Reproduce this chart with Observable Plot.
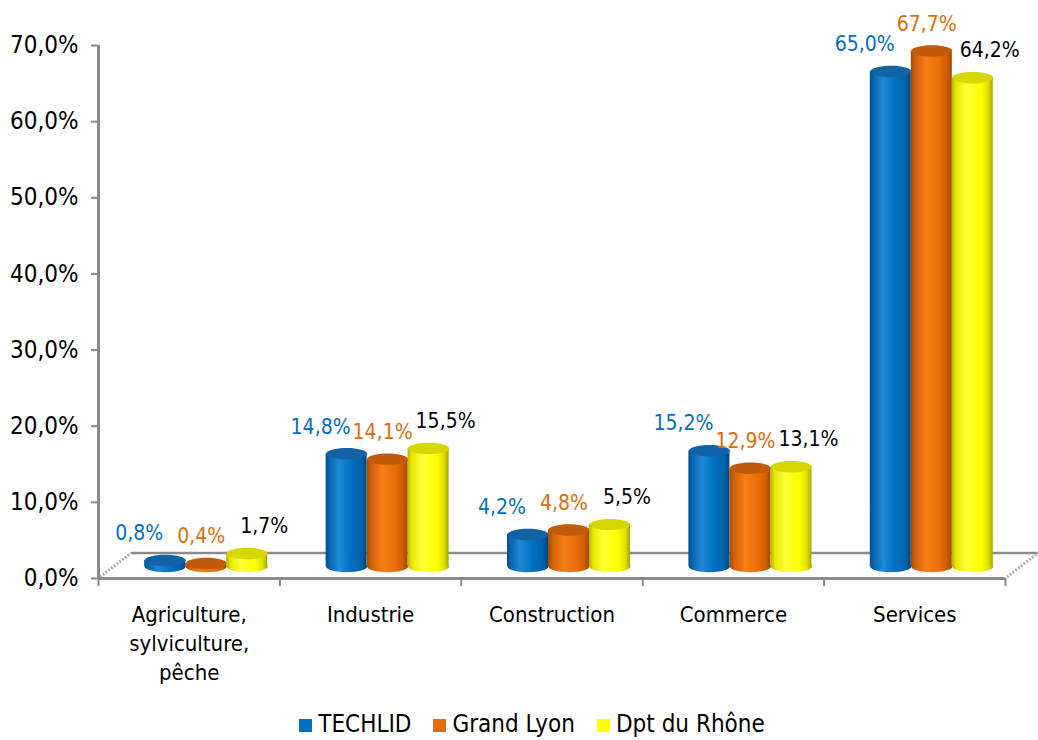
<!DOCTYPE html>
<html>
<head>
<meta charset="utf-8">
<script src="https://cdn.jsdelivr.net/npm/d3@7"></script>
<script src="https://cdn.jsdelivr.net/npm/@observablehq/plot@0.6"></script>
<style>
  html, body { margin: 0; padding: 0; background: #fff; }
  body { width: 1038px; height: 740px; overflow: hidden; font-family: "DejaVu Sans Condensed", "DejaVu Sans", sans-serif; font-stretch: condensed; }
  #legend { height: 40px; display: flex; justify-content: center; align-items: flex-start; padding-top: 12px; padding-left: 26px; box-sizing: border-box; font-size: 24px; color: #000; line-height: 1; }
  #legend .item { display: flex; align-items: center; margin: 0 11px; }
  #legend .sw { width: 13px; height: 13px; margin-right: 6px; margin-top: 3px; }
</style>
</head>
<body>
<div id="chart"></div>
<div id="legend"></div>
<script>
const categories = ["Agriculture,\nsylviculture,\npêche", "Industrie", "Construction", "Commerce", "Services"];
const seriesNames = ["TECHLID", "Grand Lyon", "Dpt du Rhône"];
const techlid   = [0.8, 14.8, 4.2, 15.2, 65.0];
const grandLyon = [0.4, 14.1, 4.8, 12.9, 67.7];
const rhone     = [1.7, 15.5, 5.5, 13.1, 64.2];
const yTicks = [0, 10, 20, 30, 40, 50, 60, 70];

const seriesValues = [techlid, grandLyon, rhone];
const seriesStyle = [
  {grad: "gBlue", top: "#1462a6", label: "#0070C0", swatch: "#0070C0", dx: -24, ldx: -26},
  {grad: "gOrange", top: "#c25a0c", label: "#E36C09", swatch: "#E36C09", dx: 17, ldx: -5},
  {grad: "gYellow", top: "#d6d600", label: "#000000", swatch: "#FFFF00", dx: 58, ldx: 17}
];

const tables = seriesValues.map(vals => categories.map((c, i) => ({i, category: c, value: vals[i]})));
const fmt = v => v.toFixed(1).replace(".", ",") + "%";

const ellipse = {
  draw(ctx, size) {
    const rx = Math.sqrt(size / Math.PI), ry = rx * 0.28, k = 0.5523;
    ctx.moveTo(rx, 0);
    ctx.bezierCurveTo(rx, ry * k, rx * k, ry, 0, ry);
    ctx.bezierCurveTo(-rx * k, ry, -rx, ry * k, -rx, 0);
    ctx.bezierCurveTo(-rx, -ry * k, -rx * k, -ry, 0, -ry);
    ctx.bezierCurveTo(rx * k, -ry, rx, -ry * k, rx, 0);
    ctx.closePath();
  }
};

const LIFT = -12;

function floor(index, scales) {
  const {x, y} = scales;
  const x0 = x(0), x5 = x(5), y0 = y(0);
  const ddx = 33, ddy = -25;
  const g = d3.create("svg:g").attr("fill", "none");
  g.append("line").attr("x1", x0 + ddx).attr("x2", x5 + ddx).attr("y1", y0 + ddy).attr("y2", y0 + ddy)
    .attr("stroke", "#8a8a8a").attr("stroke-width", 2.5);
  [x0, x5].forEach(xx => {
    g.append("line").attr("x1", xx + 2).attr("y1", y0 - 1).attr("x2", xx + ddx).attr("y2", y0 + ddy)
      .attr("stroke", "#b0b0b0").attr("stroke-width", 3).attr("stroke-dasharray", "2,1.5");
  });
  return g.node();
}

const marks = [floor];
seriesValues.forEach((vals, s) => {
  const st = seriesStyle[s];
  const data = tables[s];
  marks.push(Plot.dot(data, {x: d => d.i + 0.5, y: 0, dx: st.dx, dy: LIFT, r: 20.5, symbol: ellipse, fill: `url(#${st.grad})`, stroke: "none"}));
  marks.push(Plot.rect(data, {x1: d => d.i + 0.5, x2: d => d.i + 0.5, y1: 0, y2: "value", dx: st.dx, dy: LIFT, insetLeft: -20.5, insetRight: -20.5, fill: `url(#${st.grad})`}));
  marks.push(Plot.dot(data, {x: d => d.i + 0.5, y: "value", dx: st.dx, dy: LIFT, r: 20.5, symbol: ellipse, fill: st.top, stroke: "none"}));
});
seriesValues.forEach((vals, s) => {
  const st = seriesStyle[s];
  marks.push(Plot.text(tables[s], {x: d => d.i + 0.5, y: "value", text: d => fmt(d.value), dx: st.dx + st.ldx, dy: LIFT - 27, fill: st.label, fontSize: 21}));
});
marks.push(Plot.ruleY([0], {stroke: "#8a8a8a", strokeWidth: 3}));
marks.push(Plot.ruleX([0], {y1: 0, y2: 70, stroke: "#8a8a8a", strokeWidth: 3}));
marks.push(Plot.axisY(yTicks, {tickSize: 7, tickPadding: 13, tickFormat: fmt, fontSize: 24, stroke: "#8a8a8a", strokeWidth: 2, fill: "#000", label: null}));
marks.push(Plot.axisX(d3.range(6), {tickSize: 8, tickFormat: () => "", stroke: "#8a8a8a", strokeWidth: 2, label: null}));
marks.push(Plot.text(categories, {x: (d, i) => i + 0.5, text: d => d, frameAnchor: "bottom", lineAnchor: "top", dy: 23, fontSize: 22, lineHeight: 1.32, fill: "#000"}));

const plot = Plot.plot({
  width: 1038,
  height: 700,
  marginLeft: 98,
  marginRight: 33,
  marginTop: 45,
  marginBottom: 122,
  style: {fontFamily: '"DejaVu Sans Condensed", "DejaVu Sans", sans-serif', background: "#fff", overflow: "visible"},
  x: {type: "linear", domain: [0, 5], axis: null},
  y: {domain: [0, 70], axis: null},
  marks
});

// gradients for the cylinder bodies
const defs = d3.select(plot).insert("defs", ":first-child");
const grads = {
  gBlue: [[0, "#004f8c"], [0.1, "#0a66b0"], [0.33, "#2088d6"], [0.6, "#0072c2"], [0.86, "#0062aa"], [1, "#004a84"]],
  gOrange: [[0, "#a44a00"], [0.12, "#d2620a"], [0.38, "#f67e16"], [0.68, "#ea6e08"], [0.88, "#d05e04"], [1, "#a04800"]],
  gYellow: [[0, "#b4b400"], [0.1, "#e6e600"], [0.35, "#ffff38"], [0.7, "#ffff00"], [0.88, "#e2e200"], [1, "#a6a600"]]
};
Object.entries(grads).forEach(([id, stops]) => {
  const lg = defs.append("linearGradient").attr("id", id).attr("x1", 0).attr("x2", 1).attr("y1", 0).attr("y2", 0);
  stops.forEach(([o, c]) => lg.append("stop").attr("offset", o).attr("stop-color", c));
});

document.getElementById("chart").appendChild(plot);

const legend = d3.select("#legend");
seriesNames.forEach((name, s) => {
  const it = legend.append("div").attr("class", "item");
  it.append("div").attr("class", "sw").style("background", seriesStyle[s].swatch);
  it.append("span").text(name);
});
</script>
</body>
</html>
